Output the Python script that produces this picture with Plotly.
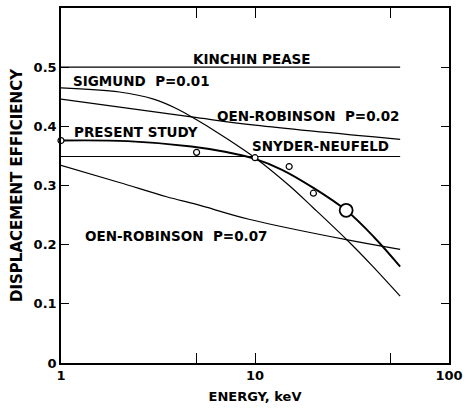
import plotly.graph_objects as go

# ---- data ----
kp_E = [1, 56]
kp_eff = [0.5, 0.5]

sn_E = [1, 56]
sn_eff = [0.349, 0.349]

sig_E = [1, 2, 3, 4, 5, 6.3, 8, 10, 15, 20, 30, 40, 56]
sig_eff = [0.465, 0.458, 0.446, 0.429, 0.411, 0.391, 0.369, 0.347, 0.300, 0.262, 0.207, 0.165, 0.113]

or02_E = [1, 4.7, 10, 56]
or02_eff = [0.446, 0.416, 0.402, 0.378]

or07_E = [1, 2, 3.5, 5, 9.3, 30, 56]
or07_eff = [0.334, 0.305, 0.281, 0.268, 0.243, 0.208, 0.192]

ps_E = [1, 2.2, 4.7, 7, 10, 13.7, 20, 29.5, 41, 56]
ps_eff = [0.376, 0.375, 0.366, 0.357, 0.345, 0.327, 0.296, 0.258, 0.213, 0.163]

pts_E = [1, 5, 10, 15, 20]
pts_eff = [0.376, 0.356, 0.347, 0.332, 0.287]
big_E = [29.5]
big_eff = [0.258]

x_tickvals = [1, 5, 10, 50, 100]
x_ticktext = ["1", "", "10", "", "100"]
y_tickvals = [0, 0.1, 0.2, 0.3, 0.4, 0.5]
y_ticktext = ["0", "0.1", "0.2", "0.3", "0.4", "0.5"]

FONT = "DejaVu Sans"

fig = go.Figure()

def line(x, y, w=1.2, shape="spline"):
    fig.add_trace(go.Scatter(x=x, y=y, mode="lines",
                             line=dict(color="black", width=w, shape=shape, smoothing=1.0),
                             showlegend=False, hoverinfo="skip"))

line(kp_E, kp_eff, 1.2, "linear")
line(sn_E, sn_eff, 1.2, "linear")
line(sig_E, sig_eff, 1.2)
line(or02_E, or02_eff, 1.2)
line(or07_E, or07_eff, 1.2)
line(ps_E, ps_eff, 1.9)

fig.add_trace(go.Scatter(x=pts_E, y=pts_eff, mode="markers",
                         marker=dict(symbol="circle", size=6, color="white",
                                     line=dict(color="black", width=1.2)),
                         showlegend=False, cliponaxis=False))
fig.add_trace(go.Scatter(x=big_E, y=big_eff, mode="markers",
                         marker=dict(symbol="circle", size=13, color="white",
                                     line=dict(color="black", width=1.8)),
                         showlegend=False))

labels = [
    ("KINCHIN PEASE", 0.996, 0.514, "center"),
    ("SIGMUND&nbsp;&nbsp;P=0.01", 0.063, 0.477, "left"),
    ("OEN-ROBINSON&nbsp;&nbsp;P=0.02", 0.805, 0.417, "left"),
    ("PRESENT STUDY", 0.068, 0.390, "left"),
    ("SNYDER-NEUFELD", 0.984, 0.366, "left"),
    ("OEN-ROBINSON&nbsp;&nbsp;P=0.07", 0.123, 0.215, "left"),
]
for t, x, y, xa in labels:
    fig.add_annotation(x=x, y=y, text="<b>" + t + "</b>", showarrow=False,
                       xanchor=xa, yanchor="middle", xshift=-2,
                       font=dict(family=FONT, size=13.5, color="black"))

axis_common = dict(showgrid=False, zeroline=False, showline=True, linecolor="black",
                   linewidth=1.5, mirror="ticks", ticks="inside", tickcolor="black",
                   tickwidth=1.2, tickfont=dict(family=FONT, size=13, color="black"))

fig.update_xaxes(type="log", range=[0, 2], tickvals=x_tickvals,
                 ticktext=["<b>%s</b>" % s if s else "" for s in x_ticktext],
                 ticklen=10, title=dict(text="<b>ENERGY, keV</b>", standoff=10,
                                        font=dict(family=FONT, size=13, color="black")),
                 **axis_common)
fig.update_yaxes(range=[0, 0.6], tickvals=y_tickvals,
                 ticktext=["<b>%s</b>" % s for s in y_ticktext],
                 ticklen=8, title=dict(text="<b>DISPLACEMENT EFFICIENCY</b>", standoff=7,
                                       font=dict(family=FONT, size=15, color="black")),
                 **axis_common)

fig.update_layout(width=469, height=408, margin=dict(l=61, r=17, t=6, b=45),
                  paper_bgcolor="white", plot_bgcolor="white", showlegend=False)

fig.write_html("out.html", config={"displayModeBar": False},
               post_script="document.body.style.margin='0';document.body.style.overflow='hidden';")
